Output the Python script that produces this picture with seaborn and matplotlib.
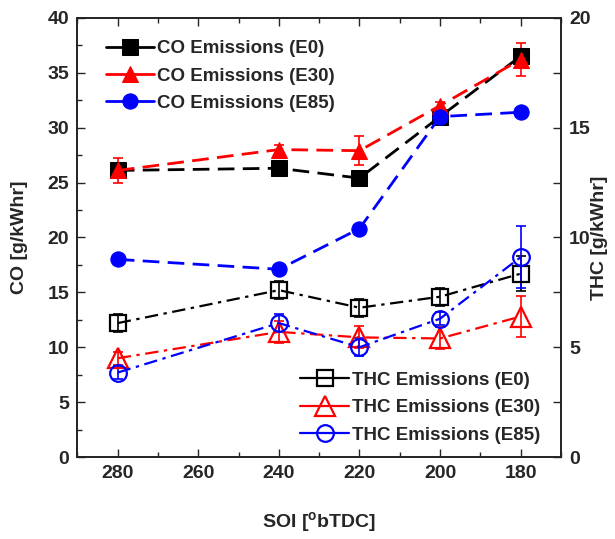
import numpy as np
import pandas as pd
import seaborn as sns
import matplotlib.pyplot as plt
from matplotlib.ticker import MultipleLocator
from matplotlib.font_manager import FontProperties

# Start of injection [deg bTDC]
soi = [280, 240, 220, 200, 180]

# CO emissions [g/kWhr]
co_e0 = [26.1, 26.3, 25.4, 31.0, 36.5]
co_e30 = [26.1, 28.0, 27.9, 32.0, 36.2]
co_e85 = [18.0, 17.1, 20.8, 31.0, 31.4]
co_e0_err = [0.5, 0.4, 0.4, 0.3, 0.4]
co_e30_err = [1.1, 0.4, 1.3, 0.3, 1.5]
co_e85_err = [0.3, 0.3, 0.3, 0.3, 0.3]

# THC emissions [g/kWhr]
thc_e0 = [6.1, 7.6, 6.8, 7.3, 8.35]
thc_e30 = [4.5, 5.7, 5.45, 5.4, 6.4]
thc_e85 = [3.85, 6.1, 5.0, 6.3, 9.1]
thc_e0_err = [0.4, 0.4, 0.4, 0.4, 0.8]
thc_e30_err = [0.3, 0.5, 0.5, 0.5, 0.95]
thc_e85_err = [0.3, 0.4, 0.4, 0.3, 1.4]

sns.set_theme(style="ticks")
plt.rcParams["font.family"] = ["Liberation Sans", "DejaVu Sans"]
plt.rcParams["font.weight"] = "bold"
plt.rcParams["axes.labelweight"] = "bold"

bold = FontProperties(family="Liberation Sans", weight="bold", size=14)
legfont = FontProperties(family="Liberation Sans", weight="bold", size=13.5)

fig = plt.figure(figsize=(6.15, 5.39), dpi=100)
ax = fig.add_axes([0.126, 0.152, 0.786, 0.815])
ax2 = ax.twinx()

black, red, blue = "#000000", "#ff0000", "#0000ff"
dash = (6, 3)
dashdot = (6, 2.5, 1.5, 2.5)

co_series = [
    ("CO Emissions (E0)", co_e0, co_e0_err, black, "s"),
    ("CO Emissions (E30)", co_e30, co_e30_err, red, "^"),
    ("CO Emissions (E85)", co_e85, co_e85_err, blue, "o"),
]
thc_series = [
    ("THC Emissions (E0)", thc_e0, thc_e0_err, black, "s"),
    ("THC Emissions (E30)", thc_e30, thc_e30_err, red, "^"),
    ("THC Emissions (E85)", thc_e85, thc_e85_err, blue, "o"),
]

for label, vals, err, color, mk in co_series:
    ax.errorbar(soi, vals, yerr=err, fmt="none", ecolor=color, elinewidth=1.2,
                capsize=3.5, capthick=1.2, zorder=2)
    df = pd.DataFrame({"soi": soi, "val": vals})
    sns.lineplot(data=df, x="soi", y="val", ax=ax, color=color, marker=mk,
                 markersize=11 if mk != "^" else 12, markeredgecolor=color,
                 markerfacecolor=color, linewidth=2, dashes=False,
                 label=label, zorder=3, sort=False)
    ax.lines[-1].set_dashes(dash)

for label, vals, err, color, mk in thc_series:
    ax2.errorbar(soi, vals, yerr=err, fmt="none", ecolor=color, elinewidth=1.2,
                 capsize=3.5, capthick=1.2, zorder=2)
    df = pd.DataFrame({"soi": soi, "val": vals})
    sns.lineplot(data=df, x="soi", y="val", ax=ax2, color=color, marker=mk,
                 markersize=12 if mk != "^" else 14, markeredgecolor=color,
                 markerfacecolor="none", markeredgewidth=1.6, linewidth=1.6,
                 dashes=False, label=label, zorder=3, sort=False)
    ax2.lines[-1].set_dashes(dashdot)

ax.set_xlim(290, 170)
ax.set_ylim(0, 40)
ax2.set_ylim(0, 20)

ax.xaxis.set_major_locator(MultipleLocator(20))
ax.xaxis.set_minor_locator(MultipleLocator(10))
ax.yaxis.set_major_locator(MultipleLocator(5))
ax.yaxis.set_minor_locator(MultipleLocator(2.5))
ax2.yaxis.set_major_locator(MultipleLocator(5))
ax2.yaxis.set_minor_locator(MultipleLocator(2.5))

ax.tick_params(axis="both", which="major", direction="in", length=6, width=1,
               labelsize=14, top=True, right=False, pad=6)
ax.tick_params(axis="both", which="minor", direction="in", length=3.5, width=1,
               top=True, right=False)
ax2.tick_params(axis="y", which="major", direction="in", length=6, width=1,
                labelsize=14, pad=6)
ax2.tick_params(axis="y", which="minor", direction="in", length=6, width=1)

for a in (ax, ax2):
    for lbl in a.get_xticklabels() + a.get_yticklabels():
        lbl.set_fontproperties(bold)
    for sp in a.spines.values():
        sp.set_linewidth(1.2)
        sp.set_color("#222222")

ax.set_xlabel("SOI [$^{\\mathregular{o}}$bTDC]", fontproperties=bold, labelpad=20)
ax.set_ylabel("CO [g/kWhr]", fontproperties=bold, labelpad=14)
ax2.set_ylabel("THC [g/kWhr]", fontproperties=bold)
ax2.yaxis.set_label_coords(1.063, 0.5)

leg1 = ax.legend(loc="upper left", bbox_to_anchor=(0.035, 0.975), frameon=False,
                 prop=legfont, handlelength=2.6, handletextpad=0.15,
                 labelspacing=0.55, borderaxespad=0.2)
for h in leg1.get_lines():
    h.set_linestyle("-")
leg2 = ax2.legend(loc="lower right", bbox_to_anchor=(0.98, 0.005), frameon=False,
                  prop=legfont, handlelength=2.6, handletextpad=0.15,
                  labelspacing=0.55, borderaxespad=0.2)
for h in leg2.get_lines():
    h.set_linestyle("-")

fig.savefig("out.png", dpi=100)
